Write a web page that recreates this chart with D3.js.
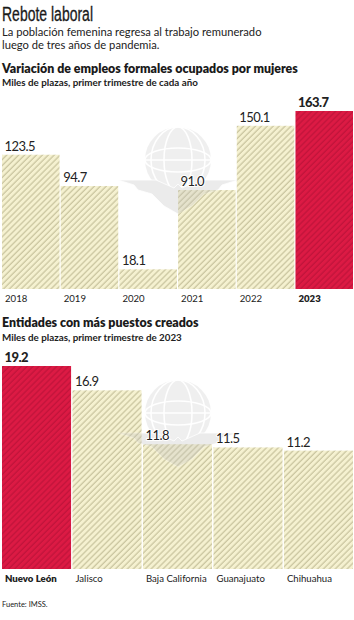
<!DOCTYPE html>
<html>
<head>
<meta charset="utf-8">
<script src="https://cdn.jsdelivr.net/npm/d3@7"></script>
<style>
    html, body { margin: 0; padding: 0; background: #fff; }
    svg { display: block; font-family: Lato, sans-serif; }
</style>
</head>
<body>
<div id="chart"></div>
<script>
// Variacion por anio
const years = ['2018', '2019', '2020', '2021', '2022', '2023'];
const yearValues = [123.5, 94.7, 18.1, 91.0, 150.1, 163.7];
const yearHighlight = '2023';

// Entidades
const states = ['Nuevo León', 'Jalisco', 'Baja California', 'Guanajuato', 'Chihuahua'];
const stateValues = [19.2, 16.9, 11.8, 11.5, 11.2];
const stateHighlight = 'Nuevo León';

const width = 354, height = 620;

const svg = d3.select('#chart').append('svg')
    .attr('width', width)
    .attr('height', height);

const defs = svg.append('defs');

function hatch(id, bg, stroke, w) {
    const p = defs.append('pattern')
        .attr('id', id)
        .attr('width', 4.2)
        .attr('height', 4.2)
        .attr('patternUnits', 'userSpaceOnUse')
        .attr('patternTransform', 'rotate(45)');
    p.append('rect').attr('width', 4.2).attr('height', 4.2).attr('fill', bg);
    p.append('line')
        .attr('x1', 1).attr('x2', 1)
        .attr('y1', 0).attr('y2', 4.2)
        .attr('stroke', stroke)
        .attr('stroke-width', w);
}
hatch('hatch-cream', '#f5f1d0', '#cbc6a0', 1.3);
hatch('hatch-red', '#dc1a44', '#c2143b', 1.4);

function addText(x, y, str, size, weight, fill) {
    return svg.append('text')
        .attr('x', x)
        .attr('y', y)
        .attr('font-size', size)
        .attr('font-weight', weight || 400)
        .attr('fill', fill || '#222')
        .text(str);
}

// logo de fondo, globo con alas
function watermark(parent, cx, cy) {
    const g = parent.append('g')
        .attr('transform', `translate(${cx}, ${cy})`)
        .attr('opacity', 0.32);
    g.append('circle').attr('r', 33).attr('fill', '#cfcfcf');
    const lines = g.append('g').attr('fill', 'none').attr('stroke', '#fff').attr('stroke-width', 1.6);
    lines.append('ellipse').attr('rx', 14).attr('ry', 33);
    lines.append('ellipse').attr('rx', 27).attr('ry', 33);
    lines.append('ellipse').attr('rx', 33).attr('ry', 12);
    lines.append('path').attr('d', 'M-33,0 H33');
    g.append('path')
        .attr('d', 'M-60,20 L-22,20 L-4,28 L0,24 L4,28 L22,20 L60,20 L44,25 L40,30 L26,34 L14,46 L0,54 L-14,46 L-26,34 L-40,30 L-44,25 Z')
        .attr('fill', '#c4c4c4')
        .attr('stroke', '#fff')
        .attr('stroke-width', 0.8);
}

const barLayer = svg.append('g');
const logoLayer = svg.append('g');
const labelLayer = svg.append('g');

function barChart(cfg) {
    const x = d3.scaleBand()
        .domain(cfg.categories)
        .range([cfg.left, cfg.right])
        .paddingInner(0.02);
    const y = d3.scaleLinear()
        .domain([0, cfg.max])
        .range([cfg.bottom, cfg.top]);

    barLayer.append('g').selectAll('rect')
        .data(cfg.categories)
        .join('rect')
        .attr('x', d => x(d))
        .attr('y', (d, i) => y(cfg.values[i]))
        .attr('width', x.bandwidth())
        .attr('height', (d, i) => cfg.bottom - y(cfg.values[i]))
        .attr('fill', d => d === cfg.highlight ? 'url(#hatch-red)' : 'url(#hatch-cream)');

    const labels = labelLayer.append('g');

    labels.selectAll('text.value')
        .data(cfg.categories)
        .join('text')
        .attr('class', 'value')
        .attr('x', d => x(d) + 2.5)
        .attr('y', (d, i) => y(cfg.values[i]) - 4)
        .attr('font-size', 13)
        .attr('letter-spacing', -0.55)
        .attr('font-weight', d => d === cfg.highlight ? 900 : 400)
        .attr('fill', '#222')
        .attr('stroke', '#fff')
        .attr('stroke-width', 2)
        .attr('paint-order', 'stroke')
        .text((d, i) => cfg.values[i].toFixed(1));

    const axis = d3.axisBottom(x).tickSize(0).tickPadding(0);
    const axisGroup = labels.append('g')
        .attr('transform', `translate(0, ${cfg.bottom})`)
        .call(axis);
    axisGroup.select('.domain').remove();
    axisGroup.selectAll('text')
        .attr('text-anchor', 'start')
        .attr('x', -x.bandwidth() / 2 + 3)
        .attr('y', 6.5)
        .attr('dy', '0.71em')
        .attr('font-family', 'Lato, sans-serif')
        .attr('font-size', 9.6)
        .attr('font-weight', d => d === cfg.highlight ? 800 : 400)
        .attr('fill', '#222');
}

// titulos
addText(2, 20.5, 'Rebote laboral', 20, 400, '#1a1a1a')
    .attr('font-family', '"Liberation Sans Narrow", "Liberation Sans", sans-serif')
    .attr('stroke', '#1a1a1a')
    .attr('stroke-width', 0.3)
    .attr('textLength', 91)
    .attr('lengthAdjust', 'spacingAndGlyphs');
addText(2, 35.5, 'La población femenina regresa al trabajo remunerado', 11.2);
addText(2, 48.5, 'luego de tres años de pandemia.', 11.2);

addText(2, 73, 'Variación de empleos formales ocupados por mujeres', 12.4, 800, '#1a1a1a');
addText(2, 86, 'Miles de plazas, primer trimestre de cada año', 9.8, 700);

addText(2, 327, 'Entidades con más puestos creados', 12.4, 800, '#1a1a1a');
addText(2, 341, 'Miles de plazas, primer trimestre de 2023', 9.8, 700);

addText(2, 607, 'Fuente: IMSS.', 7.5, 400);

barChart({
    categories: years,
    values: yearValues,
    highlight: yearHighlight,
    left: 2, right: 353,
    top: 111, bottom: 289,
    max: 163.7
});

barChart({
    categories: states,
    values: stateValues,
    highlight: stateHighlight,
    left: 2, right: 353,
    top: 366, bottom: 569,
    max: 19.2
});

watermark(logoLayer, 178, 160);
watermark(logoLayer, 178, 413);
</script>
</body>
</html>
